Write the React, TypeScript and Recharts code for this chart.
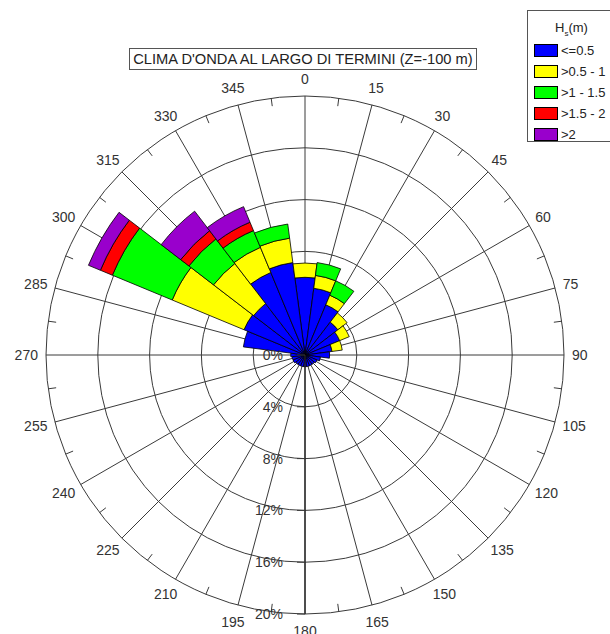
import { RadialBarChart, RadialBar, PolarGrid, PolarAngleAxis, PolarRadiusAxis, Legend, Cell } from 'recharts';

// directions (deg from north, clockwise)
const directions = ['0', '15', '30', '45', '60', '75', '90', '105', '120', '135', '150', '165',
    '180', '195', '210', '225', '240', '255', '270', '285', '300', '315', '330', '345'];

// frequency (%) per Hs class, per direction
const hsUpTo05 = [6.0, 5.2, 4.2, 3.2, 2.9, 2.1, 1.9, 1.2, 1.0, 0.9, 0.9, 0.9, 0.9, 0.9, 0.9, 0.9, 1.0, 1.0, 1.1, 4.8, 5.1, 5.0, 6.9, 7.2];
const hs05to1 = [1.1, 1.0, 0.8, 0.9, 0.8, 0.8, 0, 0, 0, 0, 0, 0, 0, 0, 0, 0, 0, 0, 0, 0, 6.0, 3.9, 2.1, 1.9];
const hs1to15 = [0, 1.0, 1.2, 0, 0, 0, 0, 0, 0, 0, 0, 0, 0, 0, 0, 0, 0, 0, 0, 0, 5.0, 2.4, 1.4, 1.1];
const hs15to2 = [0, 0, 0, 0, 0, 0, 0, 0, 0, 0, 0, 0, 0, 0, 0, 0, 0, 0, 0, 0, 1.0, 0.8, 0.7, 0];
const hsOver2 = [0, 0, 0, 0, 0, 0, 0, 0, 0, 0, 0, 0, 0, 0, 0, 0, 0, 0, 0, 0, 1.0, 1.9, 1.3, 0];

const classes = [
    { key: 'c1', name: '<=0.5', color: '#0000ff', values: hsUpTo05 },
    { key: 'c2', name: '>0.5 - 1', color: '#ffff00', values: hs05to1 },
    { key: 'c3', name: '>1 - 1.5', color: '#00ff00', values: hs1to15 },
    { key: 'c4', name: '>1.5 - 2', color: '#ff0000', values: hs15to2 },
    { key: 'c5', name: '>2', color: '#9900cc', values: hsOver2 },
];

const data = directions.map((dir, i) => {
    const row: any = { dir };
    classes.forEach(c => { row[c.key] = c.values[i]; });
    return row;
});

const CX = 305;
const CY = 355;
const R = 259;
const RAD = Math.PI / 180;
const FONT = '"Liberation Sans", Arial, sans-serif';
const GRID = '#3a3a3a';

const polar = (r: number, a: number) => ({
    x: CX + Math.cos(-a * RAD) * r,
    y: CY + Math.sin(-a * RAD) * r,
});

// spokes through the middle of every sector (recharts angles: ccw from 3 o'clock)
const spokeAngles = directions.map(d => 90 - Number(d));

function AngleTick(props: any) {
    const { payload } = props;
    // recharts puts category ticks on the sector edge -> label in the middle
    const edge = payload.coordinate;
    const mid = edge + 7.5;
    const label = String(payload.value);
    const w = label.length * 7.8;
    const end = polar(R, mid);
    const lx = end.x + Math.cos(mid * RAD) * (w / 2 + 8);
    const ly = end.y - Math.sin(mid * RAD) * 17;
    const t1 = polar(R, edge);
    const t2 = polar(R - 8, edge);
    return (
        <g>
            <line x1={t1.x} y1={t1.y} x2={t2.x} y2={t2.y} stroke={GRID} strokeWidth={1} />
            <text x={lx} y={ly} textAnchor="middle" dominantBaseline="central"
                fontFamily={FONT} fontSize={14} fill="#333">{label}</text>
        </g>
    );
}

function RadiusTick(props: any) {
    const { x, y, payload } = props;
    return (
        <g>
            <line x1={x - 8} y1={y} x2={x} y2={y} stroke={GRID} strokeWidth={1} />
            <text x={x - 22} y={y} textAnchor="end" dominantBaseline="central"
                fontFamily={FONT} fontSize={14} fill="#333">{`${payload.value}%`}</text>
        </g>
    );
}

function MinorTick(props: any) {
    const { x, y, payload } = props;
    if (payload.value % 4 === 0) return <g />;
    return <line x1={x - 8} y1={y} x2={x} y2={y} stroke={GRID} strokeWidth={1} />;
}

function LegendBox() {
    return (
        <div style={{
            width: 95, height: 132, border: '1px solid #555', background: '#fff',
            fontFamily: FONT, fontSize: 13, color: '#222', boxSizing: 'border-box', position: 'relative'
        }}>
            <div style={{ position: 'absolute', left: 27, top: 9 }}>H<sub style={{ fontSize: 8 }}>s</sub>(m)</div>
            {classes.map((c, i) => (
                <div key={c.key} style={{ position: 'absolute', left: 6, top: 32 + i * 21, display: 'flex', alignItems: 'center' }}>
                    <div style={{ width: 22, height: 11, background: c.color, border: '1px solid #000' }} />
                    <span style={{ marginLeft: 3 }}>{c.name}</span>
                </div>
            ))}
        </div>
    );
}

export default function App() {
    return (
        <div style={{ position: 'absolute', left: 0, top: 0, width: 610, height: 634, overflow: 'hidden', background: '#fff' }}>
            <RadialBarChart
                width={610}
                height={634}
                data={data}
                layout="centric"
                cx={CX}
                cy={CY}
                innerRadius={0}
                outerRadius={R}
                startAngle={82.5}
                endAngle={-277.5}
                barCategoryGap={0}
                margin={{ top: 0, right: 0, bottom: 0, left: 0 }}
            >
                <PolarGrid gridType="circle" stroke={GRID} strokeWidth={1} polarAngles={spokeAngles} />
                <PolarAngleAxis dataKey="dir" type="category" tick={AngleTick} tickLine={false} axisLine={false} />
                <PolarRadiusAxis radiusAxisId={0} type="number" domain={[0, 20]} tickCount={6} angle={-90}
                    axisLine={{ stroke: '#222', strokeWidth: 1.3 }} tick={RadiusTick} />
                <PolarRadiusAxis radiusAxisId="minor" type="number" domain={[0, 20]} tickCount={11} angle={-90}
                    axisLine={false} tick={MinorTick} />
                {classes.map(c => (
                    <RadialBar key={c.key} dataKey={c.key} name={c.name} stackId="hs" fill={c.color}
                        stroke="#000" strokeWidth={0.8} isAnimationActive={false}>
                        {data.map((d, i) => (
                            <Cell key={`${c.key}-${i}`} fill={c.color} stroke={d[c.key] > 0 ? '#000' : 'none'} />
                        ))}
                    </RadialBar>
                ))}
                <Legend content={<LegendBox />} wrapperStyle={{ position: 'absolute', left: 527, top: 10, width: 95 }} />
            </RadialBarChart>
            <div style={{
                position: 'absolute', left: 129, top: 48, width: 348, height: 22, boxSizing: 'border-box',
                border: '1px solid #555', background: '#fff', fontFamily: FONT, fontSize: 14.7, color: '#222',
                textAlign: 'center', lineHeight: '20px', whiteSpace: 'nowrap'
            }}>
                CLIMA D'ONDA AL LARGO DI TERMINI (Z=-100 m)
            </div>
        </div>
    );
}
